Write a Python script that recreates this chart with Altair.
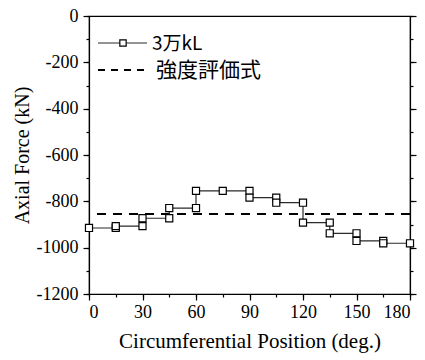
import altair as alt
import pandas as pd

# Step-line data (circumferential position, axial force)
pos = [0, 15, 15, 30, 30, 45, 45, 60, 60, 75, 90, 90, 105, 105, 120, 120, 135, 135, 150, 150, 165, 165, 180]
force = [-915, -915, -907, -907, -873, -873, -829, -829, -755, -755, -755, -784, -784, -806, -806, -892, -892, -938, -938, -971, -971, -981, -981]
criterion = -855

series_label = "3万kL"
criterion_label = "強度評価式"

df = pd.DataFrame({"pos": pos, "force": force, "order": list(range(len(pos)))})
crit_df = pd.DataFrame({"y": [criterion]})

W, H = 321, 278
serif = "Liberation Serif"
jp = "Noto Sans CJK JP"
num_expr = "datum.value < 0 ? '-' + format(-datum.value, 'd') : format(datum.value, 'd')"

xscale = alt.Scale(domain=[0, 180], nice=False, zero=False)
yscale = alt.Scale(domain=[-1200, 0], nice=False, zero=False)

x_major = alt.Axis(orient="bottom", values=list(range(0, 181, 30)), tickSize=6, labelFont=serif, labelFontSize=18,
                   labelExpr=num_expr,
                   titleFont=serif, titleFontSize=21, titleFontWeight="normal", title="Circumferential Position (deg.)",
                   grid=False, domainColor="black", tickColor="black", labelColor="black", titleColor="black",
                   labelPadding=3, titlePadding=9, domainWidth=1.2, tickWidth=1.2)
y_major = alt.Axis(orient="left", values=list(range(-1200, 1, 200)), tickSize=6, labelFont=serif, labelFontSize=18,
                   labelExpr=num_expr,
                   titleFont=serif, titleFontSize=20, titleFontWeight="normal", title="Axial Force (kN)",
                   grid=False, domainColor="black", tickColor="black", labelColor="black", titleColor="black",
                   labelPadding=5, titlePadding=4, domainWidth=1.2, tickWidth=1.2)

line = alt.Chart(df).mark_line(color="#2a2a2a", strokeWidth=1.2).encode(
    x=alt.X("pos:Q", scale=xscale, axis=x_major),
    y=alt.Y("force:Q", scale=yscale, axis=y_major),
    order="order:Q",
)
pts = alt.Chart(df).mark_point(shape="square", filled=True, fill="white", stroke="black",
                               strokeWidth=1.2, size=50, opacity=1).encode(
    x=alt.X("pos:Q", scale=xscale, axis=None),
    y=alt.Y("force:Q", scale=yscale, axis=None),
)

# minor ticks + right axis
minor_x = alt.Chart(crit_df).mark_rule(opacity=0).encode(
    x=alt.X("y:Q", scale=xscale, axis=alt.Axis(orient="bottom", values=list(range(0, 181, 15)), tickSize=3,
                                                 labels=False, title=None, grid=False, domain=False,
                                                 tickColor="black", tickWidth=1.2)),
)
minor_y = alt.Chart(crit_df).mark_rule(opacity=0).encode(
    y=alt.Y("y:Q", scale=yscale, axis=alt.Axis(orient="left", values=list(range(-1200, 1, 100)), tickSize=3,
                                                 labels=False, title=None, grid=False, domain=False,
                                                 tickColor="black", tickWidth=1.2)),
)
right_major = alt.Chart(crit_df).mark_rule(opacity=0).encode(
    y=alt.Y("y:Q", scale=yscale, axis=alt.Axis(orient="right", values=list(range(-1200, 1, 200)), tickSize=6,
                                                 labels=False, title=None, grid=False, domainColor="black",
                                                 domainWidth=1.2, tickColor="black", tickWidth=1.2)),
)
right_minor = alt.Chart(crit_df).mark_rule(opacity=0).encode(
    y=alt.Y("y:Q", scale=yscale, axis=alt.Axis(orient="right", values=list(range(-1200, 1, 100)), tickSize=3,
                                                 labels=False, title=None, grid=False, domain=False,
                                                 tickColor="black", tickWidth=1.2)),
)

crit = alt.Chart(crit_df).mark_rule(color="black", strokeWidth=2, strokeDash=[9, 7]).encode(
    y=alt.Y("y:Q", scale=yscale, axis=None),
)

# manual legend
leg_line1 = alt.Chart(crit_df).mark_rule(color="#2a2a2a", strokeWidth=1.2).encode(
    x=alt.value(9), x2=alt.value(58), y=alt.value(27))
leg_pt1 = alt.Chart(crit_df).mark_point(shape="square", filled=True, fill="white", stroke="black",
                                        strokeWidth=1.2, size=40, opacity=1).encode(
    x=alt.value(34), y=alt.value(27))
leg_txt1 = alt.Chart(crit_df).mark_text(text=series_label, font=jp, fontSize=19, align="left",
                                        baseline="middle", color="black").encode(
    x=alt.value(63), y=alt.value(28))
leg_line2 = alt.Chart(crit_df).mark_rule(color="black", strokeWidth=2, strokeDash=[7, 6]).encode(
    x=alt.value(9), x2=alt.value(60), y=alt.value(54))
leg_txt2 = alt.Chart(crit_df).mark_text(text=criterion_label, font=jp, fontSize=21, align="left",
                                        baseline="middle", color="black").encode(
    x=alt.value(67), y=alt.value(55))

chart = alt.layer(
    minor_x, minor_y, right_major, right_minor, crit, line, pts,
    leg_line1, leg_pt1, leg_txt1, leg_line2, leg_txt2,
).resolve_axis(x="independent", y="independent").properties(
    width=W, height=H,
    autosize=alt.AutoSizeParams(type="none"),
    padding={"left": 89, "top": 16, "right": 15, "bottom": 66},
    background="white",
).configure_view(stroke="black", strokeWidth=1.2).configure_axis(labelFont=serif, titleFont=serif)

chart.save("out.html", embed_options={"renderer": "svg", "actions": False})
